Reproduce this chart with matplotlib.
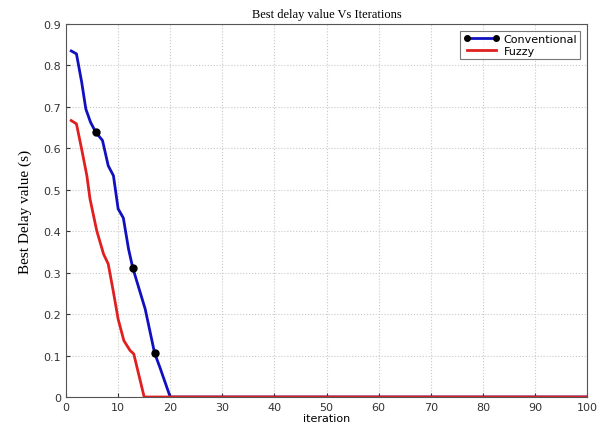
import matplotlib.pyplot as plt
import numpy as np

# data
conv_x = [1, 2, 3, 3.8, 4.7, 5.7, 7, 8.1, 9.1, 10, 11, 12, 12.8, 15.2, 17, 18, 20, 100]
conv_y = [0.835, 0.828, 0.76, 0.695, 0.663, 0.639, 0.619, 0.558, 0.534, 0.454, 0.432, 0.357, 0.312, 0.212, 0.106, 0.072, 0.0, 0.0]
conv_marks = [5, 12, 14]

fuzzy_x = [1, 2, 3, 4, 4.6, 5.9, 7.2, 8.1, 9.1, 10, 11.1, 12.3, 13, 15, 100]
fuzzy_y = [0.667, 0.659, 0.598, 0.534, 0.478, 0.401, 0.345, 0.321, 0.253, 0.188, 0.136, 0.112, 0.104, 0.0, 0.0]

fig = plt.figure(figsize=(6.03, 4.31), dpi=100)
ax = fig.add_axes([0.1095, 0.0766, 0.864, 0.8654])

ax.plot(conv_x, conv_y, color='#1010c0', lw=2, marker='o', ms=5,
        mfc='black', mec='black', markevery=conv_marks, label='Conventional')
ax.plot(fuzzy_x, fuzzy_y, color='#e02020', lw=2, label='Fuzzy')

ax.set_xlim(0, 100)
ax.set_ylim(0, 0.9)
ax.set_xticks(np.arange(0, 101, 10))
ax.set_yticks(np.arange(0, 0.91, 0.1))
ax.set_yticklabels(['0'] + ['%.1f' % v for v in np.arange(0.1, 0.91, 0.1)])
ax.tick_params(direction='in', labelsize=8, colors='#333333', length=3)
ax.grid(True, linestyle=':', color='#c8c8c8', lw=0.8)
for s in ax.spines.values():
    s.set_color('#555555')

ax.set_title('Best delay value Vs Iterations', fontsize=9, family='Liberation Serif', pad=5)
ax.set_ylabel('Best Delay value (s)', fontsize=11, family='Liberation Serif', labelpad=8)
ax.set_xlabel('iteration', fontsize=8, labelpad=1)

leg = ax.legend(loc='upper right', fontsize=8, fancybox=False, edgecolor='#555555',
                handlelength=3.2, borderpad=0.3, labelspacing=0.15, numpoints=2,
                markerscale=0.8, handletextpad=0.4, borderaxespad=0.6)
leg.get_frame().set_linewidth(0.8)

fig.savefig('out.png', dpi=100)
